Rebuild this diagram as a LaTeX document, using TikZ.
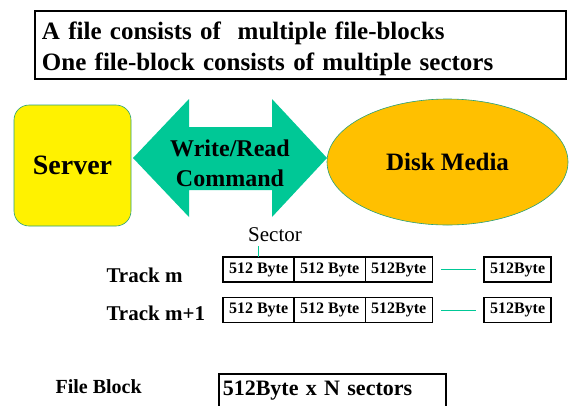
\documentclass[tikz,border=0pt]{standalone}
\usepackage{fontspec}
\setmainfont{Liberation Serif}
\usetikzlibrary{shapes.geometric, arrows, positioning}
\definecolor{cmdgreen}{RGB}{0,200,150}
\definecolor{diskorange}{RGB}{255,192,0}
\definecolor{rimgreen}{RGB}{40,160,120}
\tikzstyle{sec} = [rectangle, draw=black, line width=1.4, outer sep=0, inner xsep=6, inner ysep=0, minimum height=25, font=\fontsize{16}{16}\selectfont\bfseries]
\tikzstyle{track} = [anchor=west, font=\fontsize{21}{21}\selectfont\bfseries]
\tikzstyle{gap} = [draw=cmdgreen, line width=1, shorten <=9, shorten >=8]

\begin{document}
\begin{tikzpicture}[x=1pt, y=-1pt, node distance=0pt]
		\useasboundingbox (0,0) rectangle (569,405);
		\node (title) [rectangle, draw=black, line width=1.8, anchor=north west, minimum width=531, minimum height=67, text width=517, inner xsep=7, align=left, font=\fontsize{25}{31}\selectfont\bfseries] at (34,10) {\rule{0pt}{25pt}A file consists of~ multiple file-blocks\\One file-block consists of multiple sectors};
		\node (server) [rectangle, rounded corners=15, fill=yellow, draw=rimgreen, line width=0.6, minimum width=117, minimum height=121, font=\fontsize{28}{28}\selectfont\bfseries] at (72.5,165.5) {Server};
		\node (disk) [ellipse, fill=diskorange, draw=rimgreen, line width=0.6, minimum width=241, minimum height=126, font=\fontsize{25}{25}\selectfont\bfseries] at (447.5,162) {Disk Media};
		% write/read arrow between server and disk
		\fill [cmdgreen] (133,158) -- (189,99) -- (189,127) -- (272,127) -- (272,99) -- (327,158) -- (272,217) -- (272,190) -- (189,190) -- (189,217) -- cycle;
		\node (cmd) [align=center, font=\fontsize{24}{30}\selectfont\bfseries] at (230,163) {Write/Read\\Command};
		\node (sector) [font=\fontsize{21}{21}\selectfont] at (275,235) {Sector};
		\node (m1) [sec, anchor=west] at (223,269.5) {512 Byte};
		\node (m2) [sec, right=of m1] {512 Byte};
		\node (m3) [sec, right=of m2] {512Byte};
		\node (m4) [sec, anchor=west] at (484,269.5) {512Byte};
		\node (n1) [sec, anchor=west] at (223,310) {512 Byte};
		\node (n2) [sec, right=of n1] {512 Byte};
		\node (n3) [sec, right=of n2] {512Byte};
		\node (n4) [sec, anchor=west] at (484,310) {512Byte};
		\node (trackm) [track] at (103,275) {Track m};
		\node (trackn) [track] at (103,313) {Track m+1};
		\draw [gap] (m3) -- (m4);
		\draw [gap] (n3) -- (n4);
		\draw [draw=cmdgreen, line width=0.8] (m1.north) -- (m1.north |- sector.south);
		\node (fileblock) [anchor=west, font=\fontsize{20}{20}\selectfont\bfseries] at (52,387) {File Block};
		\node (nsec) [rectangle, draw=black, line width=1.6, anchor=north west, minimum width=227, minimum height=34, text width=219, inner xsep=4, align=left, font=\fontsize{22}{22}\selectfont\bfseries] at (218,373) {512Byte x N sectors};
	\end{tikzpicture}
\end{document}
